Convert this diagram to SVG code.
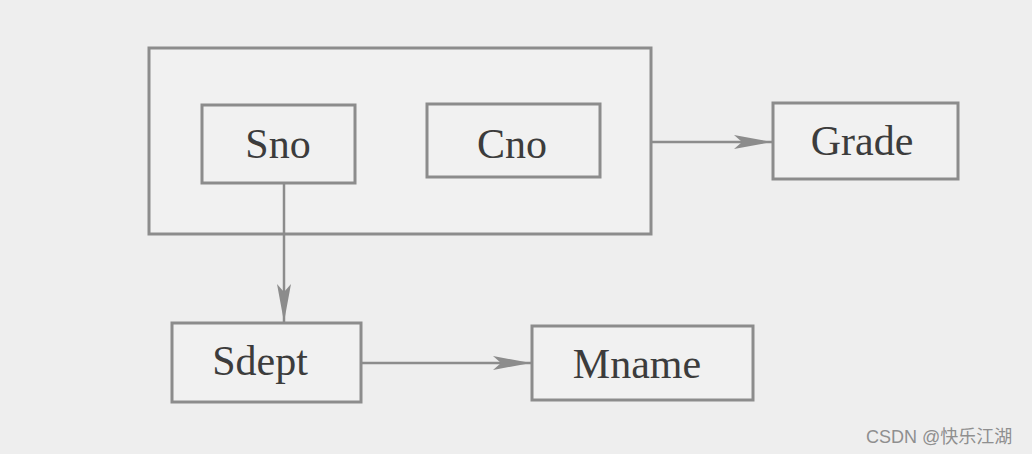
<svg xmlns="http://www.w3.org/2000/svg" width="1032" height="454" viewBox="0 0 1032 454">
<style>
.box{fill:#f1f1f1;stroke:#8c8c8c;stroke-width:3}
.lbl{font-family:"Liberation Serif","Times New Roman",serif;font-size:42px;fill:#3c3c3c;text-anchor:middle}
.edge{stroke:#8c8c8c;stroke-width:2.5;fill:none}
.wm{font-family:"Liberation Sans","Noto Sans CJK SC",sans-serif;font-size:18px;fill:#8f8f8f}
</style>
<defs>
<marker id="arr" markerUnits="userSpaceOnUse" markerWidth="40" markerHeight="16" refX="38" refY="8" orient="auto">
<path d="M0,1 L38,8 L0,15 L8,8 Z" fill="#8c8c8c"/>
</marker>
</defs>
<rect x="0" y="0" width="1032" height="454" fill="#eeeeee"/>
<g id="key">
<rect class="box" x="149" y="48" width="502" height="186"/>
</g>
<g id="sno">
<rect class="box" x="202" y="105" width="153" height="78"/>
<text class="lbl" x="278" y="158">Sno</text>
</g>
<g id="cno">
<rect class="box" x="427" y="104" width="173" height="73"/>
<text class="lbl" x="512" y="158">Cno</text>
</g>
<g id="grade">
<rect class="box" x="773" y="103" width="185" height="76"/>
<text class="lbl" x="862" y="155">Grade</text>
</g>
<g id="sdept">
<rect class="box" x="172" y="323" width="189" height="79"/>
<text class="lbl" x="260" y="375">Sdept</text>
</g>
<g id="mname">
<rect class="box" x="532" y="326" width="221" height="74"/>
<text class="lbl" x="637" y="378">Mname</text>
</g>
<g id="connectors">
<line class="edge" x1="652" y1="142" x2="772" y2="142" marker-end="url(#arr)"/>
<line class="edge" x1="284" y1="184" x2="284" y2="322" marker-end="url(#arr)"/>
<line class="edge" x1="362" y1="363" x2="531" y2="363" marker-end="url(#arr)"/>
</g>
<text class="wm" x="866" y="443">CSDN @快乐江湖</text>
</svg>
